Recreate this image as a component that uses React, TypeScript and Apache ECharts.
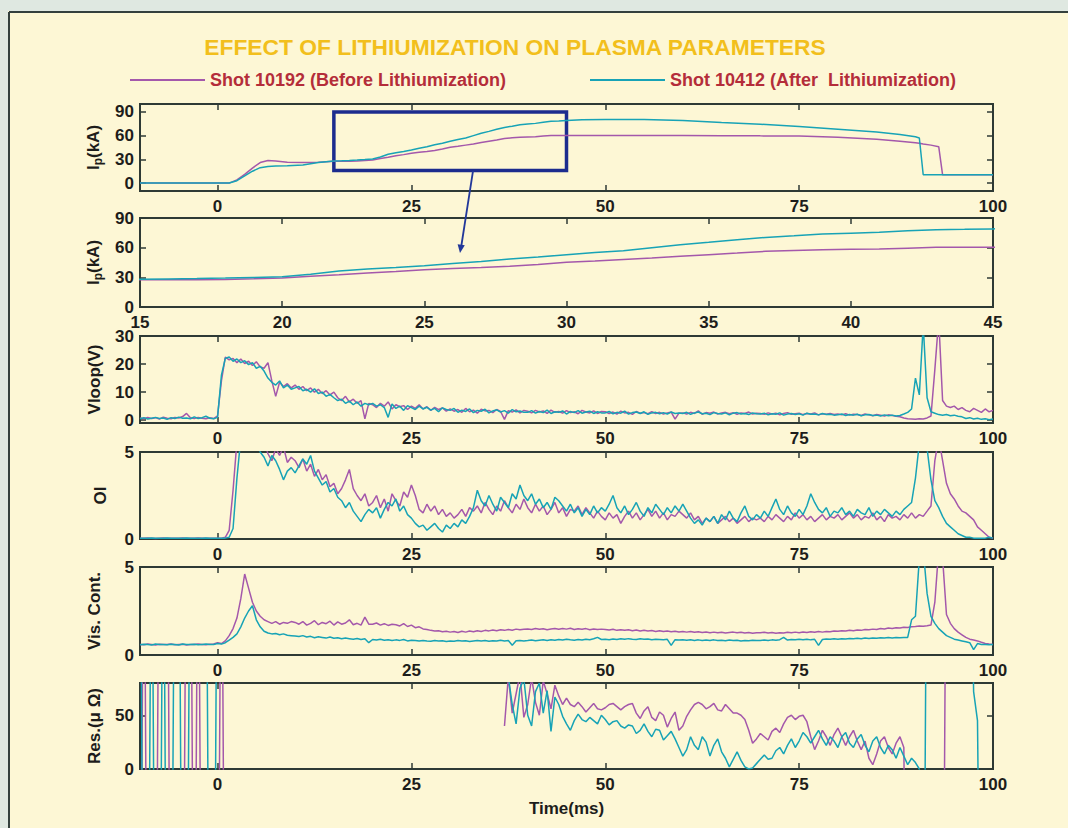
import React, { useEffect, useRef } from "react";
import * as echarts from "echarts";

const FONT = '"Liberation Sans", Arial, Helvetica, sans-serif';
const INK = "#1d1d1b";
const FRAME = "#2e3a35";
const PURPLE = "#a458ab";
const CYAN = "#17a3b6";

const TITLE = "EFFECT OF LITHIUMIZATION ON PLASMA PARAMETERS";
const SHOT_A = "Shot 10192 (Before Lithiumization)";
const SHOT_B = "Shot 10412 (After  Lithiumization)";

// axes
const X_FULL = [-10, 100];
const X_TICKS = [0, 25, 50, 75, 100];
const X_ZOOM = [15, 45];
const X_ZOOM_TICKS = [15, 20, 25, 30, 35, 40, 45];
const IP_RANGE = [-10, 100];
const IP_TICKS = [0, 30, 60, 90];
const IP_ZOOM_RANGE = [0, 90];
const VLOOP_RANGE = [-1, 30];
const VLOOP_TICKS = [0, 10, 20, 30];
const OI_RANGE = [0, 5];
const OI_TICKS = [0, 5];
const VIS_RANGE = [0, 5];
const VIS_TICKS = [0, 5];
const RES_RANGE = [0, 80];
const RES_TICKS = [0, 50];
const ZOOM_BOX_X = [15, 45];
const ZOOM_BOX_Y = [16, 90];

// plasma current (kA)
const T_IP = [-10, 1.5, 2.5, 3.5, 4.5, 5.5, 6.5, 7.5, 9, 11, 13, 15,
  16, 17, 18, 19, 20, 21, 22, 23, 24, 25, 26, 27, 28, 29, 30, 31, 32, 33, 34, 35, 36, 37, 38, 39, 40, 41, 42, 43, 44, 45,
  47, 50, 55, 60, 65, 70, 75, 80, 85, 88, 90, 90.5, 91, 92, 93, 93.5, 94, 100];
const IP_A = [0, 0, 4, 11, 19, 26, 28.5, 28, 26.5, 26, 26.5, 27.5,
  27.5, 27.6, 27.8, 28.5, 29.3, 31, 32.7, 34.5, 36, 37.7, 39, 40, 41.1, 43, 45.2, 46.5, 48, 49.5, 51.2, 52.9, 54.5, 56.3, 57.2, 58, 58.3, 58.6, 59.5, 60.3, 60.3, 60.3,
  60.3, 60.3, 60.3, 60.2, 60, 59.7, 59.5, 58, 55.5, 53, 51, 50.5, 49.5, 48, 46, 10.5, 10.5, 10.5];
const IP_B = [0, 0, 3, 9, 15, 19.5, 21, 21.5, 22, 23, 26, 28,
  28.3, 28.7, 29.2, 29.8, 30.5, 33, 36.5, 38.5, 40, 41.8, 44, 46, 48.5, 50.5, 52.9, 55, 57, 60, 63, 65.4, 68, 70.4, 72, 73.8, 74.7, 75.5, 77, 78.2, 78.5, 79,
  80, 80.5, 80.5, 79, 76.5, 74.5, 71.5, 68, 64.5, 61.5, 58.5, 57, 10.5, 10.5, 10.5, 10.5, 10.5, 10.5];

// half-millisecond samples from -10 ms to 100 ms
const T_HALF: number[] = [];
for (let i = 0; i <= 220; i++) T_HALF.push(-10 + i * 0.5);

const VLOOP_A = [
  0.8, 0.5, 1.0, 0.6, 0.9, 0.4, 1.1, 0.7, 0.5, 1.0, 0.8, 1.3, 2.4, 0.9, 0.6, 1.0, 0.7, 0.5, 0.9, 0.6,
  1.5, 14, 22.5, 21.5, 22, 20.5, 21.8, 20.2, 21, 19.5, 20.8, 19, 18.5, 20.5, 14, 8.5, 13.5, 12, 13, 11.5,
  12.5, 11, 12, 10.5, 11.5, 10, 11, 9.5, 10.5, 9, 10, 8, 7, 8.5, 6.5, 7.5, 6, 7, 0.5, 6,
  5.5, 4.5, 6, 5, 6.5, 4, 5.5, 4.8, 5.2, 3.8, 5, 4.2, 5.5, 4, 4.8, 3.5, 4.6, 3.8, 4.4, 3.2,
  4, 3.2, 3.8, 2.8, 4.2, 3, 3.6, 2.5, 3.9, 3.3, 3.5, 2.7, 3.8, 3.1, 0.3, 3.4, 2.9, 3.7, 2.6, 3.5,
  3.2, 2.6, 3.5, 2.9, 3.3, 2.4, 3.6, 2.8, 3.1, 2.5, 3.4, 2.7, 3, 2.3, 3.5, 2.9, 2.6, 3.3, 2.4, 3.1,
  3, 2.4, 2.9, 2.2, 3.2, 2.6, 2.8, 2.1, 3.1, 2.5, 2.7, 2.3, 3, 2.4, 2.8, 2.2, 2.6, 2.9, 0.4, 2.5,
  2.6, 2.2, 2.8, 2.4, 3.3, 2.1, 2.7, 2.5, 2.9, 2.2, 2.6, 2.8, 2.3, 2.7, 2.1, 2.6, 2.4, 2.9, 2.2, 2.5,
  2.4, 2.1, 2.6, 2.2, 2.5, 1.9, 2.4, 2.7, 2.1, 2.3, 2.5, 2, 2.4, 2.2, 2.6, 1.9, 2.3, 2.1, 2.4, 2,
  2.2, 1.9, 2.3, 1.8, 2.1, 2, 1.7, 2.2, 1.9, 1.6, 2, 1.8, 1.5, 1.9, 1.7, 1.4, 1.2, 0.8, 0.5, 0.4,
  0.3, 0.5, 0.4, 0.8, 1.5, 18, 36, 7, 5, 4.5, 5, 3.8, 4.5, 3.5, 3, 4.2, 3.5, 2.8, 4, 3, 3.5];
const VLOOP_B = [
  0.5, 0.9, 0.4, 0.7, 1.0, 0.6, 0.8, 0.3, 0.9, 0.6, 1.1, 0.7, 0.8, 0.5, 1.2, 0.6, 0.9, 1.4, 0.7, 0.5,
  1.0, 16, 22, 22.5, 21, 21.8, 20.5, 21.2, 19.8, 20.5, 18.5, 19.2, 17.5, 15, 13.5, 12.5, 14, 11.5, 12.5, 11,
  11.5, 12, 10.5, 11, 10, 11.2, 9.5, 10, 8.5, 9.2, 8, 7, 7.5, 6, 6.8, 5.5, 6.5, 5, 6, 5.5,
  6, 5, 5.5, 4.5, 1, 5.8, 4.2, 5, 3.5, 5.2, 4.5, 3.8, 5, 4, 4.6, 3.6, 4.2, 3, 4.4, 3.8,
  3.5, 4.2, 2.8, 3.6, 3.1, 4, 2.7, 3.5, 3.2, 3.9, 2.6, 3.3, 3.7, 2.9, 3.4, 2.5, 3.8, 3, 3.3, 2.8,
  2.8, 3.4, 2.5, 3.1, 2.7, 3.6, 2.4, 3, 2.8, 3.3, 2.2, 3.1, 2.7, 3.4, 2.5, 2.9, 3.2, 2.4, 3, 2.6,
  2.6, 3.1, 2.3, 2.8, 2.5, 3.2, 2.2, 2.7, 2.9, 2.4, 3, 2.1, 2.6, 2.8, 2.3, 2.7, 2.2, 2.9, 2.4, 2.6,
  2.4, 2.8, 2.1, 2.6, 2.9, 2.3, 2.5, 2, 2.7, 2.4, 2.2, 2.6, 1.9, 2.5, 2.7, 2.2, 2.4, 2, 2.6, 2.3,
  2.2, 2.5, 1.9, 2.3, 2.1, 2.6, 1.8, 2.2, 2.4, 2, 2.3, 1.8, 2.5, 2.1, 2.2, 1.9, 2.4, 2, 2.1, 1.8,
  1.9, 2.2, 1.7, 2, 1.8, 2.1, 1.6, 1.9, 2, 1.7, 1.8, 1.5, 1.9, 1.6, 1.8, 1.5, 1.7, 2.2, 2.8, 4,
  15, 9, 34, 8, 3, 2.5, 2, 1.8, 2, 1.6, 1.8, 1.4, 1.2, 0.6, 0.9, 0.4, 0.7, 0.3, 0.5, 0.2, 0.4];

const OI_A = [
  0.05, 0.04, 0.06, 0.05, 0.03, 0.05, 0.06, 0.04, 0.05, 0.05, 0.04, 0.06, 0.05, 0.04, 0.05, 0.06, 0.05, 0.04, 0.05, 0.05,
  0.05, 0.05, 0.1, 0.5, 2.8, 5.6, 6.1, 5.8, 6.3, 5.7, 5.4, 5.1, 5.6, 4.9, 4.5, 5.2, 4.8, 5.3, 4.4, 4.7,
  4.5, 4.1, 4.6, 3.9, 4.3, 3.6, 4, 3.4, 3.7, 3, 3.2, 2.6, 2.9, 3.4, 4, 2.9, 2.5, 2.2, 2.6, 1.9,
  2.1, 2.5, 1.8, 2.3, 1.6, 2.6, 2.2, 1.9, 2.7, 2.4, 3.1, 2.5, 1.7, 1.5, 2, 1.6, 1.9, 1.4, 1.7, 1.3,
  1.5, 1.2, 1.4, 1.7, 1.3, 1.8, 1.6, 1.9, 1.5, 2.1, 1.7, 1.4, 1.9, 1.6, 2.2, 1.8, 1.5, 2, 1.7, 2.3,
  1.8, 1.5, 2, 1.6, 1.9, 1.4, 1.7, 2.1, 1.5, 1.8, 1.3, 1.7, 1.6, 1.9, 1.4, 1.8, 1.5, 1.2, 1.6, 1.3,
  1.1, 1.5, 1.2, 1.4, 0.9, 1.3, 1.6, 1.2, 1.5, 1.1, 1.4, 1.7, 1.3, 1.6, 1.2, 1.5, 1.1, 1.4, 1.3, 1.6,
  1.4, 1.2, 1.5, 1.1, 1.3, 0.9, 1.2, 1, 1.3, 0.9, 1.1, 1.3, 1, 1.2, 0.9, 1.1, 1.3, 1, 1.2, 1.1,
  1.2, 1, 1.3, 1.1, 1.4, 1.2, 1, 1.3, 1.1, 1.5, 1.2, 1.4, 1.1, 1.3, 1, 1.2, 1.4, 1.1, 1.3, 1.2,
  1.4, 1.1, 1.3, 1.5, 1.2, 1.4, 1.1, 1.3, 1.2, 1.5, 1.1, 1.3, 1, 1.4, 1.2, 1.3, 1.1, 1.4, 1.2, 1.5,
  1.2, 1.4, 1.3, 1.6, 1.9, 4.5, 5.8, 4.5, 3.2, 2.6, 2.3, 1.9, 1.6, 1.5, 1.3, 1.1, 0.7, 0.5, 0.3, 0.1, 0.05];
const OI_B = [
  0.04, 0.05, 0.05, 0.06, 0.04, 0.05, 0.04, 0.06, 0.05, 0.04, 0.05, 0.05, 0.06, 0.04, 0.05, 0.04, 0.05, 0.06, 0.05, 0.04,
  0.05, 0.05, 0.05, 0.1, 0.6, 3.5, 5.8, 6.2, 5.9, 5.4, 5.6, 5, 4.7, 4.2, 4.8, 4.5, 4, 3.4, 3.9, 4.1,
  3.8, 4.2, 4.6, 4.3, 4.8, 3.9, 3.5, 3.1, 3.3, 2.7, 2.9, 2.4, 2.2, 1.8, 2.1, 1.6, 1.3, 1, 1.4, 1.7,
  1.5, 1.8, 1.2, 1.7, 2.1, 1.9, 2.3, 1.6, 1.9, 1.4, 1.2, 0.9, 0.7, 0.8, 0.5, 0.7, 0.9, 0.6, 0.4, 0.8,
  0.6, 0.9, 0.7, 1.1, 0.9, 1.3, 1.8, 2.8, 2.2, 1.9, 2.5, 2, 1.6, 2.4, 2.1, 1.8, 2.6, 2.3, 3.1, 2.5,
  2.2, 2.6, 2, 2.3, 1.8, 2.1, 1.7, 2.4, 2.2, 1.9, 1.6, 2, 1.5, 1.8, 1.3, 1.7, 1.4, 1.9, 1.5, 1.8,
  1.6, 2, 2.5, 1.8, 1.5, 1.9, 1.4, 1.7, 2.1, 1.6, 1.3, 1.8, 1.5, 2, 1.7, 1.4, 1.8, 1.5, 1.9, 1.6,
  2, 1.6, 1.2, 0.9, 1.1, 0.8, 1.2, 1, 1.3, 0.9, 1.4, 1.1, 1.6, 1.2, 1, 1.5, 1.9, 1.3, 1.1, 1.4,
  1.2, 1.6, 1.3, 1.8, 2.3, 1.7, 1.4, 1.9, 1.5, 1.3, 1.7, 1.4, 1.9, 2.6, 2.1, 1.7, 1.5, 1.8, 1.3, 1.6,
  1.5, 1.8, 1.4, 1.6, 1.3, 1.7, 1.5, 1.4, 1.8, 1.3, 1.6, 1.4, 1.7, 1.5, 1.3, 1.6, 1.4, 1.7, 1.9, 2.1,
  3.5, 5.5, 6, 5.2, 3.4, 2.2, 1.8, 1.3, 0.9, 0.7, 0.5, 0.3, 0.2, 0.1, 0.1, 0.05, 0.05, 0.05, 0.05, 0.1, 0.05];

const VIS_A = [
  0.6, 0.58, 0.62, 0.6, 0.57, 0.61, 0.6, 0.59, 0.62, 0.58, 0.6, 0.61, 0.57, 0.6, 0.59, 0.62, 0.6, 0.58, 0.61, 0.63,
  0.7, 0.65, 0.8, 1.1, 1.5, 2.1, 3.2, 4.6, 3.8, 3, 2.5, 2.2, 2, 1.9, 1.8, 1.9, 1.75, 1.85, 1.8, 1.9,
  1.85, 1.75, 1.9, 1.7, 1.8, 1.95, 1.72, 1.85, 1.78, 1.92, 1.7, 1.88, 1.75, 1.82, 2, 1.72, 1.8, 1.7, 2.15, 1.75,
  1.75, 1.82, 1.7, 1.78, 1.68, 1.75, 1.72, 1.65, 1.78, 1.62, 1.7, 1.55, 1.6, 1.48, 1.45, 1.4, 1.36, 1.38, 1.32, 1.35,
  1.3, 1.33, 1.28, 1.35, 1.3, 1.36, 1.32, 1.38, 1.34, 1.4, 1.37, 1.42, 1.38, 1.44, 1.4, 1.45, 1.41, 1.47, 1.43, 1.46,
  1.48, 1.45, 1.5, 1.46, 1.49, 1.44, 1.48, 1.51, 1.46, 1.5, 1.47, 1.52, 1.45, 1.49, 1.46, 1.5, 1.44, 1.48, 1.45, 1.47,
  1.45, 1.42, 1.46, 1.4, 1.44, 1.41, 1.43, 1.38, 1.42, 1.36, 1.4, 1.37, 1.39, 1.34, 1.38, 1.33, 1.36, 1.32, 1.35, 1.31,
  1.33, 1.3, 1.34, 1.29, 1.32, 1.28, 1.31, 1.27, 1.3, 1.26, 1.29, 1.25, 1.28, 1.3, 1.26, 1.29, 1.25, 1.28, 1.24, 1.27,
  1.26, 1.29, 1.25, 1.28, 1.24, 1.27, 1.25, 1.29, 1.26, 1.3, 1.27, 1.31, 1.28, 1.32, 1.29, 1.33, 1.3, 1.34, 1.32, 1.36,
  1.35, 1.38, 1.36, 1.4, 1.38, 1.42, 1.4, 1.45, 1.43, 1.47, 1.45, 1.5, 1.48, 1.53, 1.51, 1.55, 1.53, 1.58, 1.56, 1.6,
  1.62, 1.65, 1.63, 1.66, 1.7, 3, 6, 5.5, 2.3, 1.8, 1.5, 1.3, 1.15, 1, 0.9, 0.85, 0.8, 0.72, 0.65, 0.62, 0.6];
const VIS_B = [
  0.58, 0.61, 0.6, 0.57, 0.62, 0.59, 0.6, 0.58, 0.61, 0.6, 0.57, 0.62, 0.6, 0.59, 0.61, 0.58, 0.6, 0.62, 0.59, 0.6,
  0.65, 0.62, 0.7, 0.85, 1, 1.2, 1.6, 2.1, 2.5, 2.8, 2, 1.6, 1.35, 1.25, 1.2, 1.22, 1.15, 1.2, 1.12, 1.1,
  1.08, 1.05, 1.1, 1.02, 1.06, 0.98, 1.04, 1, 0.96, 1.02, 0.95, 0.98, 0.92, 0.96, 0.93, 0.9, 0.94, 0.88, 0.92, 0.7,
  0.88, 0.85, 0.9, 0.84, 0.87, 0.82, 0.86, 0.83, 0.88, 0.8, 0.84, 0.82, 0.79, 0.83, 0.8, 0.78, 0.82, 0.79, 0.81, 0.77,
  0.8, 0.78, 0.82, 0.79, 0.81, 0.77, 0.8, 0.83, 0.79, 0.82, 0.78, 0.81, 0.8, 0.84, 0.8, 0.82, 0.55, 0.81, 0.83, 0.8,
  0.82, 0.85, 0.81, 0.84, 0.86, 0.83, 0.87, 0.84, 0.88, 0.85, 0.89, 0.86, 0.84, 0.88, 0.85, 0.9, 0.87, 0.92, 1, 0.88,
  0.9, 0.87, 0.91, 0.88, 0.92, 0.89, 0.93, 0.9, 0.88, 0.92, 0.89, 0.91, 0.87, 0.9, 0.88, 0.86, 0.89, 0.55, 0.87, 0.85,
  0.86, 0.84, 0.87, 0.83, 0.86, 0.82, 0.85, 0.83, 0.86, 0.82, 0.84, 0.81, 0.85, 0.82, 0.84, 0.8, 0.83, 0.81, 0.84, 0.82,
  0.83, 0.85, 0.82, 0.86, 0.84, 0.87, 1, 0.85, 0.88, 0.86, 0.89, 0.87, 0.9, 0.86, 0.89, 0.55, 0.88, 0.91, 0.89, 0.92,
  0.9, 0.93, 0.91, 0.94, 0.92, 0.95, 0.93, 0.96, 0.94, 0.97, 0.95, 0.98, 0.96, 0.99, 0.97, 1, 0.98, 1, 1, 2,
  2.2, 5.5, 6, 3.5, 2.2, 1.8, 1.5, 1.3, 1.1, 1, 0.9, 0.85, 0.8, 0.75, 0.7, 0.3, 0.65, 0.6, 0.6, 0.58, 0.6];

// resistance (off-scale values of +/-300 give the vertical strokes)
const RES_A = [
  -300, 300, -300, -300, -300, 300, 300, 300, -300, -300, -300, -300, 300, 300, -300, 300, -300, -300, -300, -300,
  -300, 300, -300, null, null, null, null, null, null, null, null, null, null, null, null, null, null, null, null, null,
  null, null, null, null, null, null, null, null, null, null, null, null, null, null, null, null, null, null, null, null,
  null, null, null, null, null, null, null, null, null, null, null, null, null, null, null, null, null, null, null, null,
  null, null, null, null, null, null, null, null, null, null, null, null, null, null, 40, 86, 52, 70, 88, 48,
  60, 85, 62, 50, 82, 70, 56, 78, 68, 60, 66, 60, 58, 62, 58, 53, 57, 61, 56, 55,
  57, 60, 61, 58, 55, 58, 60, 61, 52, 47, 54, 58, 48, 45, 53, 50, 39, 47, 53, 36,
  40, 49, 55, 60, 62, 60, 56, 58, 61, 55, 54, 60, 56, 52, 52, 50, 46, 36, 24, 28,
  33, 30, 27, 35, 38, 34, 42, 48, 50, 46, 49, 50, 44, 30, 18, 26, 36, 30, 22, 32,
  38, 30, 22, 30, 36, 26, 18, 26, 10, 4, 14, 26, 30, 20, 14, 24, 30, 20, -300, -300,
  -300, -300, -300, -300, -300, -300, -300, -300, 300, null, null, null, null, null, null, null, null, null, null, null, null];
const RES_B = [
  300, -300, -300, 300, -300, -300, 300, -300, -300, 300, 300, -300, -300, 300, 300, 300, 300, 300, -300, -300,
  300, null, null, null, null, null, null, null, null, null, null, null, null, null, null, null, null, null, null, null,
  null, null, null, null, null, null, null, null, null, null, null, null, null, null, null, null, null, null, null, null,
  null, null, null, null, null, null, null, null, null, null, null, null, null, null, null, null, null, null, null, null,
  null, null, null, null, null, null, null, null, null, null, null, null, null, null, null, 86, 60, 42, 75, 84,
  50, 40, 72, 80, 52, 73, 35, 67, 60, 49, 42, 36, 45, 51, 46, 44, 48, 45, 42, 50,
  46, 41, 44, 45, 40, 38, 41, 40, 33, 36, 42, 35, 30, 37, 36, 27, 31, 35, 28, 20,
  12, 18, 30, 22, 18, 30, 25, 12, 22, 28, 16, 10, 2, 9, 16, 8, 2, 0, 1, 5,
  9, 13, 9, 10, 17, 20, 14, 22, 28, 20, 26, 34, 30, 24, 30, 36, 28, 22, 30, 26,
  20, 30, 34, 24, 20, 28, 32, 22, 16, 26, 30, 20, 14, 22, 18, 10, 20, 12, 4, 10,
  6, 0, -300, 300, 300, 300, 300, 300, 300, 300, 300, 300, 300, 300, 300, 72, 45, -300, -300, -300, -300, -300];

function pairs(ts: number[], vs: (number | null)[]) {
  return ts.map((t, i) => {
    const v = vs[i];
    return v === null || v === undefined ? [t, "-"] : [t, v];
  });
}

const LEFT = 140;
const WIDTH = 853;

type Panel = {
  top: number; height: number; x: number[]; xTicks: number[]; y: number[]; yTicks: number[];
  name: string; nameGap: number; a: any[]; b: any[]; rich?: boolean; xName?: string;
};

const PANELS: Panel[] = [
  { top: 104, height: 87, x: X_FULL, xTicks: X_TICKS, y: IP_RANGE, yTicks: IP_TICKS, name: "{m|I}{s|p}{m|(kA)}", nameGap: 30, a: pairs(T_IP, IP_A), b: pairs(T_IP, IP_B), rich: true },
  { top: 218, height: 89, x: X_ZOOM, xTicks: X_ZOOM_TICKS, y: IP_ZOOM_RANGE, yTicks: IP_TICKS, name: "{m|I}{s|p}{m|(kA)}", nameGap: 30, a: pairs(T_IP, IP_A), b: pairs(T_IP, IP_B), rich: true },
  { top: 336, height: 87, x: X_FULL, xTicks: X_TICKS, y: VLOOP_RANGE, yTicks: VLOOP_TICKS, name: "Vloop(V)", nameGap: 37, a: pairs(T_HALF, VLOOP_A), b: pairs(T_HALF, VLOOP_B) },
  { top: 452, height: 87, x: X_FULL, xTicks: X_TICKS, y: OI_RANGE, yTicks: OI_TICKS, name: "OI", nameGap: 31, a: pairs(T_HALF, OI_A), b: pairs(T_HALF, OI_B) },
  { top: 567, height: 88, x: X_FULL, xTicks: X_TICKS, y: VIS_RANGE, yTicks: VIS_TICKS, name: "Vis. Cont.", nameGap: 37, a: pairs(T_HALF, VIS_A), b: pairs(T_HALF, VIS_B) },
  { top: 683, height: 86, x: X_FULL, xTicks: X_TICKS, y: RES_RANGE, yTicks: RES_TICKS, name: "Res.(\u03bc \u03a9)", nameGap: 37, a: pairs(T_HALF, RES_A), b: pairs(T_HALF, RES_B), xName: "Time(ms)" },
];

const labelStyle = { color: INK, fontSize: 17, fontWeight: "bold" as const, fontFamily: FONT };
const tickStyle = { color: FRAME, width: 1.5 };

function buildOption() {
  const grid: any[] = [];
  const xAxis: any[] = [];
  const yAxis: any[] = [];
  const series: any[] = [];
  PANELS.forEach((p, g) => {
    grid.push({ left: LEFT, width: WIDTH, top: p.top, height: p.height, show: true, borderColor: FRAME, borderWidth: 2, backgroundColor: "transparent" });
    const xBase = { type: "value", gridIndex: g, min: p.x[0], max: p.x[1], axisLine: { show: false, onZero: false }, splitLine: { show: false } };
    xAxis.push({
      ...xBase, position: "bottom",
      axisTick: { show: true, inside: true, length: 6, customValues: p.xTicks, lineStyle: tickStyle },
      axisLabel: { show: true, customValues: p.xTicks, margin: 7, ...labelStyle },
      name: p.xName || "", nameLocation: "middle", nameGap: 31, nameTextStyle: labelStyle,
    });
    xAxis.push({
      ...xBase, position: "top",
      axisTick: { show: true, inside: true, length: 6, customValues: p.xTicks, lineStyle: tickStyle },
      axisLabel: { show: false },
    });
    const yBase = { type: "value", gridIndex: g, min: p.y[0], max: p.y[1], axisLine: { show: false, onZero: false }, splitLine: { show: false } };
    const nameStyle: any = { ...labelStyle };
    if (p.rich) {
      nameStyle.rich = {
        m: { fontSize: 17, fontWeight: "bold", fontFamily: FONT, color: INK, lineHeight: 17 },
        s: { fontSize: 12, fontWeight: "bold", fontFamily: FONT, color: INK, lineHeight: 12, padding: [10, 0, 0, 0] },
      };
    }
    yAxis.push({
      ...yBase, position: "left",
      axisTick: { show: true, inside: true, length: 6, customValues: p.yTicks, lineStyle: tickStyle },
      axisLabel: { show: true, customValues: p.yTicks, margin: 6, ...labelStyle },
      name: p.name, nameLocation: "middle", nameGap: p.nameGap, nameRotate: 90, nameTextStyle: nameStyle,
    });
    yAxis.push({
      ...yBase, position: "right",
      axisTick: { show: true, inside: true, length: 6, customValues: p.yTicks, lineStyle: tickStyle },
      axisLabel: { show: false },
    });
    const common = {
      type: "line", xAxisIndex: 2 * g, yAxisIndex: 2 * g, showSymbol: false, symbol: "none",
      connectNulls: false, clip: true, silent: true, animation: false,
    };
    const sa: any = { ...common, name: SHOT_A, color: PURPLE, lineStyle: { color: PURPLE, width: 1.5 }, data: p.a };
    if (g === 0) {
      sa.markArea = {
        silent: true,
        itemStyle: { color: "rgba(0,0,0,0)", borderColor: "#1c2c8e", borderWidth: 3.5 },
        label: { show: false },
        data: [[{ coord: [ZOOM_BOX_X[0], ZOOM_BOX_Y[0]] }, { coord: [ZOOM_BOX_X[1], ZOOM_BOX_Y[1]] }]],
      };
    }
    series.push(sa);
    series.push({ ...common, name: SHOT_B, color: CYAN, lineStyle: { color: CYAN, width: 1.5 }, data: p.b });
  });

  const legendText = { color: "#b42d3a", fontSize: 18, fontWeight: "bold" as const, fontFamily: FONT };
  const legendBase = { icon: "rect", itemWidth: 75, itemHeight: 2, selectedMode: false, textStyle: legendText, top: 71, padding: 0 };

  return {
    animation: false,
    backgroundColor: "#fdf7d5",
    grid, xAxis, yAxis, series,
    legend: [
      { ...legendBase, left: 130, data: [SHOT_A] },
      { ...legendBase, left: 590, data: [SHOT_B] },
    ],
    graphic: [
      { type: "rect", z: 100, shape: { x: 0, y: 0, width: 1068, height: 11 }, style: { fill: "#dfe8e1" }, silent: true },
      { type: "rect", z: 100, shape: { x: 0, y: 0, width: 8, height: 828 }, style: { fill: "#dfe8e1" }, silent: true },
      { type: "line", z: 100, shape: { x1: 9, y1: 12, x2: 1068, y2: 12 }, style: { stroke: "#34403d", lineWidth: 2 }, silent: true },
      { type: "line", z: 100, shape: { x1: 9, y1: 12, x2: 9, y2: 828 }, style: { stroke: "#34403d", lineWidth: 2 }, silent: true },
      {
        type: "text", z: 100, x: 515, y: 47, silent: true,
        style: {
          text: TITLE, fill: "#f2bf1c", font: `bold 22.8px ${FONT}`, align: "center", verticalAlign: "middle",
          shadowBlur: 5, shadowColor: "rgba(235,150,20,0.9)",
        },
      },
      { type: "line", z: 100, shape: { x1: 473, y1: 171, x2: 461.3, y2: 246 }, style: { stroke: "#22389a", lineWidth: 1.8 }, silent: true },
      { type: "polygon", z: 100, shape: { points: [[460, 253], [464.8, 245.2], [457.6, 244.2]] }, style: { fill: "#22389a" }, silent: true },
    ],
  };
}

export default function App() {
  const ref = useRef<HTMLDivElement>(null);
  useEffect(() => {
    if (!ref.current) return;
    const chart = echarts.init(ref.current, undefined, { renderer: "svg" });
    chart.setOption(buildOption() as any);
    return () => chart.dispose();
  }, []);
  return <div ref={ref} style={{ position: "absolute", left: 0, top: 0, width: 1068, height: 828 }} />;
}
